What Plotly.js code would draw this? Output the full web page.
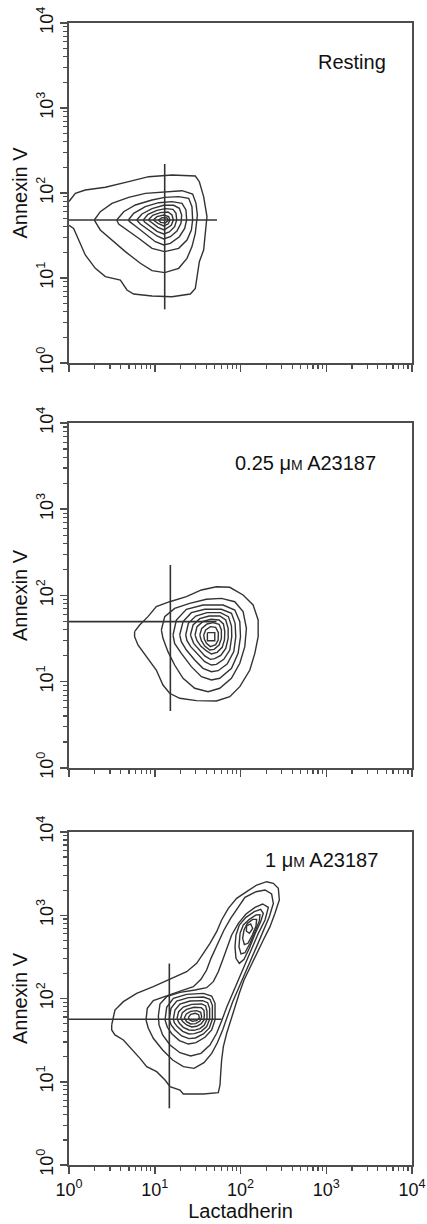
<!DOCTYPE html>
<html>
<head>
<meta charset="utf-8">
<script src="https://cdn.plot.ly/plotly-3.0.1.min.js"></script>
<style>html,body{margin:0;padding:0;background:#fff}#chart{width:427px;height:1224px}</style>
</head>
<body>
<div id="chart"></div>
<script>
// ---- Data: contour outlines, in log10 units (decades) of
// [Lactadherin, Annexin V] fluorescence. Converted to intensities for log axes.

// Panel 1: Resting
const resting1 = [[0.0,1.90],[0.074,1.996],[0.190,2.035],[0.424,2.067],[0.696,2.133],[0.929,2.192],[1.201,2.212],[1.473,2.200],[1.520,2.133],[1.570,1.957],[1.609,1.722],[1.598,1.584],[1.570,1.329],[1.520,1.192],[1.493,1.016],[1.473,0.878],[1.415,0.812],[1.201,0.780],[0.968,0.788],[0.754,0.812],[0.676,0.859],[0.599,0.976],[0.424,1.016],[0.307,1.114],[0.190,1.271],[0.113,1.447],[0.054,1.584],[0.0,1.62]];
const resting2 = [[0.295,1.682],[0.365,1.780],[0.501,1.878],[0.696,1.949],[0.890,1.996],[1.116,2.016],[1.318,2.027],[1.442,1.988],[1.481,1.878],[1.497,1.741],[1.489,1.663],[1.473,1.525],[1.434,1.369],[1.376,1.231],[1.279,1.114],[1.116,1.063],[0.968,1.086],[0.832,1.173],[0.657,1.310],[0.501,1.447],[0.365,1.565]];
const resting3 = [[0.556,1.682],[0.638,1.780],[0.774,1.859],[0.968,1.918],[1.116,1.949],[1.279,1.957],[1.396,1.937],[1.434,1.839],[1.442,1.682],[1.427,1.565],[1.376,1.447],[1.279,1.349],[1.116,1.310],[0.968,1.349],[0.812,1.467],[0.676,1.565],[0.579,1.635]];
const resting4 = [[0.692,1.682],[0.754,1.761],[0.890,1.839],[1.046,1.886],[1.201,1.898],[1.318,1.878],[1.364,1.800],[1.372,1.682],[1.349,1.584],[1.287,1.486],[1.182,1.408],[1.104,1.388],[1.007,1.427],[0.890,1.525],[0.774,1.612],[0.707,1.663]];
const resting5 = [[0.789,1.682],[0.851,1.753],[0.968,1.816],[1.104,1.855],[1.221,1.855],[1.287,1.820],[1.314,1.741],[1.306,1.643],[1.259,1.553],[1.182,1.486],[1.104,1.459],[1.026,1.494],[0.929,1.565],[0.832,1.635]];
const resting6 = [[0.867,1.682],[0.921,1.749],[1.026,1.796],[1.123,1.816],[1.213,1.808],[1.248,1.761],[1.256,1.682],[1.232,1.604],[1.170,1.541],[1.104,1.518],[1.026,1.549],[0.937,1.612],[0.882,1.659]];
const resting7 = [[0.925,1.682],[0.976,1.737],[1.065,1.769],[1.155,1.776],[1.201,1.741],[1.217,1.682],[1.193,1.620],[1.108,1.565],[1.038,1.596],[0.960,1.651]];
const resting8 = [[0.983,1.682],[1.026,1.722],[1.104,1.741],[1.162,1.722],[1.178,1.682],[1.155,1.635],[1.104,1.612],[1.038,1.643]];
const resting9 = [[1.042,1.682],[1.085,1.710],[1.143,1.706],[1.158,1.678],[1.123,1.647],[1.069,1.655]];
const restingGateH = [[0,1.682],[1.726,1.682]];
const restingGateV = [[1.116,0.631],[1.116,2.341]];

// Panel 2: 0.25 uM A23187
const lowDose1 = [[0.765,1.581],[0.824,1.658],[0.921,1.755],[1.018,1.871],[1.174,1.928],[1.369,1.986],[1.544,2.064],[1.719,2.102],[1.875,2.095],[2.030,2.006],[2.147,1.890],[2.206,1.716],[2.206,1.523],[2.167,1.329],[2.109,1.136],[1.992,0.943],[1.875,0.827],[1.719,0.777],[1.486,0.781],[1.291,0.808],[1.174,0.866],[1.096,0.962],[1.018,1.136],[0.901,1.291],[0.804,1.426],[0.765,1.523]];
const lowDose2 = [[1.077,1.600],[1.116,1.755],[1.232,1.851],[1.407,1.909],[1.602,1.956],[1.777,1.967],[1.933,1.928],[2.030,1.813],[2.069,1.619],[2.050,1.407],[1.992,1.214],[1.894,1.040],[1.758,0.924],[1.622,0.885],[1.466,0.924],[1.330,1.040],[1.232,1.194],[1.154,1.349],[1.096,1.503]];
const lowDose3 = [[1.213,1.542],[1.252,1.716],[1.369,1.840],[1.563,1.890],[1.797,1.890],[1.934,1.832],[1.992,1.697],[2.000,1.523],[1.972,1.329],[1.895,1.156],[1.758,1.040],[1.661,1.020],[1.544,1.059],[1.427,1.175],[1.310,1.329],[1.232,1.445]];
const lowDose4 = [[1.291,1.542],[1.330,1.697],[1.427,1.801],[1.583,1.840],[1.777,1.840],[1.895,1.793],[1.937,1.677],[1.945,1.523],[1.922,1.349],[1.844,1.206],[1.739,1.128],[1.661,1.117],[1.563,1.156],[1.466,1.252],[1.369,1.368],[1.310,1.465]];
const lowDose5 = [[1.361,1.542],[1.392,1.677],[1.478,1.762],[1.610,1.801],[1.766,1.801],[1.859,1.755],[1.895,1.646],[1.898,1.523],[1.875,1.368],[1.805,1.260],[1.719,1.202],[1.661,1.194],[1.583,1.233],[1.505,1.310],[1.419,1.407],[1.376,1.476]];
const lowDose6 = [[1.416,1.542],[1.447,1.658],[1.525,1.731],[1.634,1.762],[1.758,1.762],[1.828,1.716],[1.856,1.619],[1.856,1.503],[1.828,1.387],[1.770,1.306],[1.700,1.268],[1.649,1.260],[1.583,1.299],[1.517,1.368],[1.454,1.445]];
const lowDose7 = [[1.470,1.542],[1.493,1.639],[1.563,1.700],[1.657,1.724],[1.750,1.716],[1.801,1.670],[1.817,1.581],[1.813,1.484],[1.786,1.399],[1.727,1.341],[1.661,1.322],[1.603,1.357],[1.536,1.414],[1.493,1.476]];
const lowDose8 = [[1.525,1.542],[1.548,1.619],[1.610,1.670],[1.680,1.685],[1.750,1.666],[1.777,1.600],[1.777,1.503],[1.750,1.426],[1.692,1.376],[1.641,1.368],[1.583,1.414],[1.544,1.476]];
const lowDose9 = [[1.571,1.542],[1.594,1.600],[1.649,1.639],[1.711,1.631],[1.742,1.569],[1.739,1.484],[1.711,1.430],[1.649,1.407],[1.603,1.445],[1.579,1.492]];
const lowDose10 = [[1.614,1.569],[1.700,1.569],[1.700,1.476],[1.614,1.476]];
const lowDoseGateH = [[0,1.697],[1.72,1.697]];
const lowDoseGateV = [[1.182,0.661],[1.182,2.354]];

// Panel 3: 1 uM A23187
const highDose1 = [[0.498,1.682],[0.536,1.862],[0.634,1.962],[0.789,2.062],[0.983,2.142],[1.158,2.222],[1.256,2.262],[1.372,2.322],[1.489,2.422],[1.567,2.543],[1.644,2.663],[1.722,2.803],[1.780,2.943],[1.858,3.083],[1.955,3.203],[2.072,3.283],[2.189,3.363],[2.305,3.403],[2.383,3.383],[2.441,3.323],[2.453,3.183],[2.402,3.023],[2.344,2.863],[2.266,2.703],[2.189,2.543],[2.111,2.382],[2.041,2.222],[1.986,2.062],[1.936,1.902],[1.885,1.742],[1.839,1.582],[1.800,1.421],[1.780,1.261],[1.769,1.101],[1.761,0.961],[1.741,0.869],[1.567,0.853],[1.333,0.853],[1.294,0.901],[1.178,0.941],[1.120,1.021],[1.022,1.121],[0.906,1.181],[0.828,1.281],[0.711,1.421],[0.634,1.502],[0.536,1.562],[0.498,1.622]];
const highDose2 = [[0.898,1.742],[0.913,1.882],[0.983,1.974],[1.139,2.034],[1.314,2.094],[1.450,2.142],[1.539,2.230],[1.605,2.342],[1.656,2.482],[1.722,2.631],[1.808,2.823],[1.885,2.963],[1.975,3.095],[2.052,3.215],[2.181,3.283],[2.286,3.303],[2.363,3.255],[2.383,3.143],[2.336,2.983],[2.274,2.823],[2.188,2.623],[2.111,2.442],[2.033,2.262],[1.975,2.122],[1.909,1.962],[1.846,1.782],[1.792,1.622],[1.730,1.469],[1.664,1.341],[1.574,1.229],[1.458,1.161],[1.333,1.181],[1.209,1.261],[1.092,1.381],[0.983,1.522],[0.925,1.642]];
const highDose3 = [[1.042,1.790],[1.061,1.934],[1.139,2.022],[1.294,2.074],[1.469,2.102],[1.605,2.130],[1.683,2.202],[1.741,2.322],[1.792,2.462],[1.839,2.603],[1.897,2.763],[1.975,2.903],[2.064,3.015],[2.169,3.095],[2.258,3.135],[2.325,3.095],[2.286,2.943],[2.208,2.783],[2.118,2.563],[2.041,2.382],[1.963,2.202],[1.897,2.042],[1.839,1.894],[1.784,1.742],[1.722,1.582],[1.644,1.441],[1.539,1.341],[1.419,1.309],[1.294,1.349],[1.178,1.441],[1.092,1.562],[1.050,1.682]];
// lower (annexin-low) population
const highDoseLow1 = [[1.120,1.742],[1.139,1.894],[1.217,2.002],[1.372,2.050],[1.567,2.062],[1.664,2.030],[1.703,1.942],[1.703,1.742],[1.664,1.622],[1.586,1.534],[1.481,1.469],[1.392,1.453],[1.287,1.494],[1.201,1.574],[1.147,1.654]];
const highDoseLow2 = [[1.170,1.750],[1.189,1.882],[1.256,1.970],[1.392,2.010],[1.567,2.018],[1.644,1.990],[1.672,1.918],[1.672,1.750],[1.637,1.646],[1.567,1.574],[1.473,1.526],[1.399,1.518],[1.314,1.550],[1.236,1.622],[1.189,1.686]];
const highDoseLow3 = [[1.217,1.754],[1.236,1.862],[1.294,1.934],[1.411,1.970],[1.559,1.974],[1.617,1.950],[1.640,1.882],[1.640,1.750],[1.605,1.662],[1.543,1.606],[1.462,1.578],[1.399,1.574],[1.326,1.606],[1.263,1.662],[1.228,1.710]];
const highDoseLow4 = [[1.259,1.758],[1.279,1.842],[1.333,1.898],[1.431,1.930],[1.547,1.934],[1.594,1.910],[1.609,1.850],[1.609,1.750],[1.578,1.682],[1.528,1.638],[1.458,1.618],[1.399,1.622],[1.333,1.654],[1.287,1.702]];
const highDoseLow5 = [[1.302,1.762],[1.322,1.830],[1.372,1.870],[1.458,1.894],[1.543,1.890],[1.574,1.858],[1.578,1.802],[1.574,1.742],[1.543,1.698],[1.489,1.666],[1.431,1.658],[1.372,1.682],[1.326,1.722]];
const highDoseLow6 = [[1.345,1.766],[1.368,1.814],[1.419,1.846],[1.489,1.854],[1.536,1.834],[1.547,1.782],[1.528,1.730],[1.477,1.698],[1.419,1.694],[1.372,1.722]];
const highDoseLow7 = [[1.392,1.774],[1.419,1.810],[1.473,1.822],[1.512,1.806],[1.520,1.766],[1.489,1.734],[1.438,1.726],[1.403,1.746]];
// upper (annexin-high) population
const highDoseUp1 = [[1.947,2.763],[1.986,2.883],[2.064,2.975],[2.161,3.043],[2.235,3.071],[2.266,3.023],[2.235,2.923],[2.169,2.775],[2.103,2.603],[2.041,2.470],[1.986,2.422],[1.947,2.482],[1.936,2.623]];
const highDoseUp2 = [[1.995,2.783],[2.033,2.883],[2.103,2.951],[2.181,3.003],[2.227,3.007],[2.220,2.935],[2.169,2.803],[2.111,2.663],[2.052,2.550],[2.006,2.535],[1.982,2.623]];
const highDoseUp3 = [[2.041,2.823],[2.080,2.903],[2.142,2.951],[2.188,2.951],[2.181,2.871],[2.138,2.763],[2.087,2.663],[2.045,2.647],[2.025,2.723]];
const highDoseUp4 = [[2.072,2.871],[2.119,2.895],[2.142,2.843],[2.103,2.783],[2.068,2.811]];
const highDoseGateH = [[0,1.75],[1.78,1.75]];
const highDoseGateV = [[1.17,0.681],[1.17,2.42]];

// Axis ticks and labels
const majorTicks = [1, 10, 100, 1000, 10000];
const tickText = ['10<sup>0</sup>', '10<sup>1</sup>', '10<sup>2</sup>', '10<sup>3</sup>', '10<sup>4</sup>'];
const minorTicks = [2,3,4,5,6,7,8,9,20,30,40,50,60,70,80,90,200,300,400,500,600,700,800,900,2000,3000,4000,5000,6000,7000,8000,9000];
const panelLabels = ['Resting', '0.25 μ<span style="font-size:14px">M</span> A23187', '1 μ<span style="font-size:14px">M</span> A23187'];
const xTitle = 'Lactadherin';
const yTitle = 'Annexin V';

// ---- Build
const LINE = '#333333';
const AX = '#4d4d4d';
const TXT = '#111111';
const FONT = 'Liberation Sans, Arial, Helvetica, sans-serif';
const toVal = d => Math.pow(10, d);
const traces = [];

function addPath(pts, xa, ya, closed, width) {
  const p = closed ? pts.concat([pts[0]]) : pts;
  traces.push({
    type: 'scatter', mode: 'lines',
    x: p.map(q => toVal(q[0])), y: p.map(q => toVal(q[1])),
    xaxis: xa, yaxis: ya,
    line: {color: LINE, width: width || 1.4},
    hoverinfo: 'skip', showlegend: false
  });
}

addPath(resting1, 'x', 'y', false);
[resting2, resting3, resting4, resting5, resting6, resting7, resting8, resting9].forEach(c => addPath(c, 'x', 'y', true));
addPath(restingGateH, 'x', 'y', false, 1.6);
addPath(restingGateV, 'x', 'y', false, 1.6);

[lowDose1, lowDose2, lowDose3, lowDose4, lowDose5, lowDose6, lowDose7, lowDose8, lowDose9, lowDose10].forEach(c => addPath(c, 'x2', 'y2', true));
addPath(lowDoseGateH, 'x2', 'y2', false, 1.6);
addPath(lowDoseGateV, 'x2', 'y2', false, 1.6);

[highDose1, highDose2, highDose3, highDoseLow1, highDoseLow2, highDoseLow3, highDoseLow4, highDoseLow5, highDoseLow6, highDoseLow7,
 highDoseUp1, highDoseUp2, highDoseUp3, highDoseUp4].forEach(c => addPath(c, 'x3', 'y3', true));
addPath(highDoseGateH, 'x3', 'y3', false, 1.6);
addPath(highDoseGateV, 'x3', 'y3', false, 1.6);

const minor = {ticks: 'outside', ticklen: 4, tickwidth: 1.2, tickcolor: AX, tickmode: 'array', tickvals: minorTicks, showgrid: false};

function xAxis(anchor, showLabels) {
  const a = {
    type: 'log', range: [0, 4], anchor: anchor, domain: [0, 1],
    showline: true, linecolor: AX, linewidth: 2, mirror: true,
    ticks: 'outside', ticklen: 7, tickwidth: 1.5, tickcolor: AX,
    tickmode: 'array', tickvals: majorTicks, ticktext: tickText,
    showticklabels: showLabels, tickfont: {family: FONT, size: 18, color: TXT},
    minor: minor, showgrid: false, zeroline: false, fixedrange: true
  };
  if (showLabels) a.title = {text: xTitle, font: {family: FONT, size: 20, color: TXT}, standoff: 5};
  return a;
}
function yAxis(anchor, domain) {
  return {
    type: 'log', range: [0, 4], anchor: anchor, domain: domain,
    showline: true, linecolor: AX, linewidth: 2, mirror: true,
    ticks: 'outside', ticklen: 7, tickwidth: 1.5, tickcolor: AX,
    tickmode: 'array', tickvals: majorTicks, ticktext: tickText, tickangle: -90,
    tickfont: {family: FONT, size: 18, color: TXT},
    minor: minor, showgrid: false, zeroline: false, fixedrange: true,
    title: {text: yTitle, font: {family: FONT, size: 20, color: TXT}, standoff: 1}
  };
}

const layout = {
  width: 427, height: 1224,
  margin: {l: 69, r: 15, t: 23, b: 59, pad: 0},
  paper_bgcolor: '#ffffff', plot_bgcolor: '#ffffff',
  font: {family: FONT, color: TXT},
  showlegend: false,
  xaxis: xAxis('y', false),
  yaxis: yAxis('x', [0.70228, 1]),
  xaxis2: xAxis('y2', false),
  yaxis2: yAxis('x2', [0.34764, 0.64974]),
  xaxis3: xAxis('y3', true),
  yaxis3: yAxis('x3', [0, 0.29159]),
  annotations: [
    {text: panelLabels[0], xref: 'paper', yref: 'paper', x: 0.8251, y: 0.96585, xanchor: 'center', yanchor: 'middle', showarrow: false, font: {family: FONT, size: 20, color: TXT}},
    {text: panelLabels[1], xref: 'paper', yref: 'paper', x: 0.6895, y: 0.61445, xanchor: 'center', yanchor: 'middle', showarrow: false, font: {family: FONT, size: 20, color: TXT}},
    {text: panelLabels[2], xref: 'paper', yref: 'paper', x: 0.7347, y: 0.26708, xanchor: 'center', yanchor: 'middle', showarrow: false, font: {family: FONT, size: 20, color: TXT}}
  ]
};

Plotly.newPlot('chart', traces, layout, {displayModeBar: false, staticPlot: true});
</script>
</body>
</html>
